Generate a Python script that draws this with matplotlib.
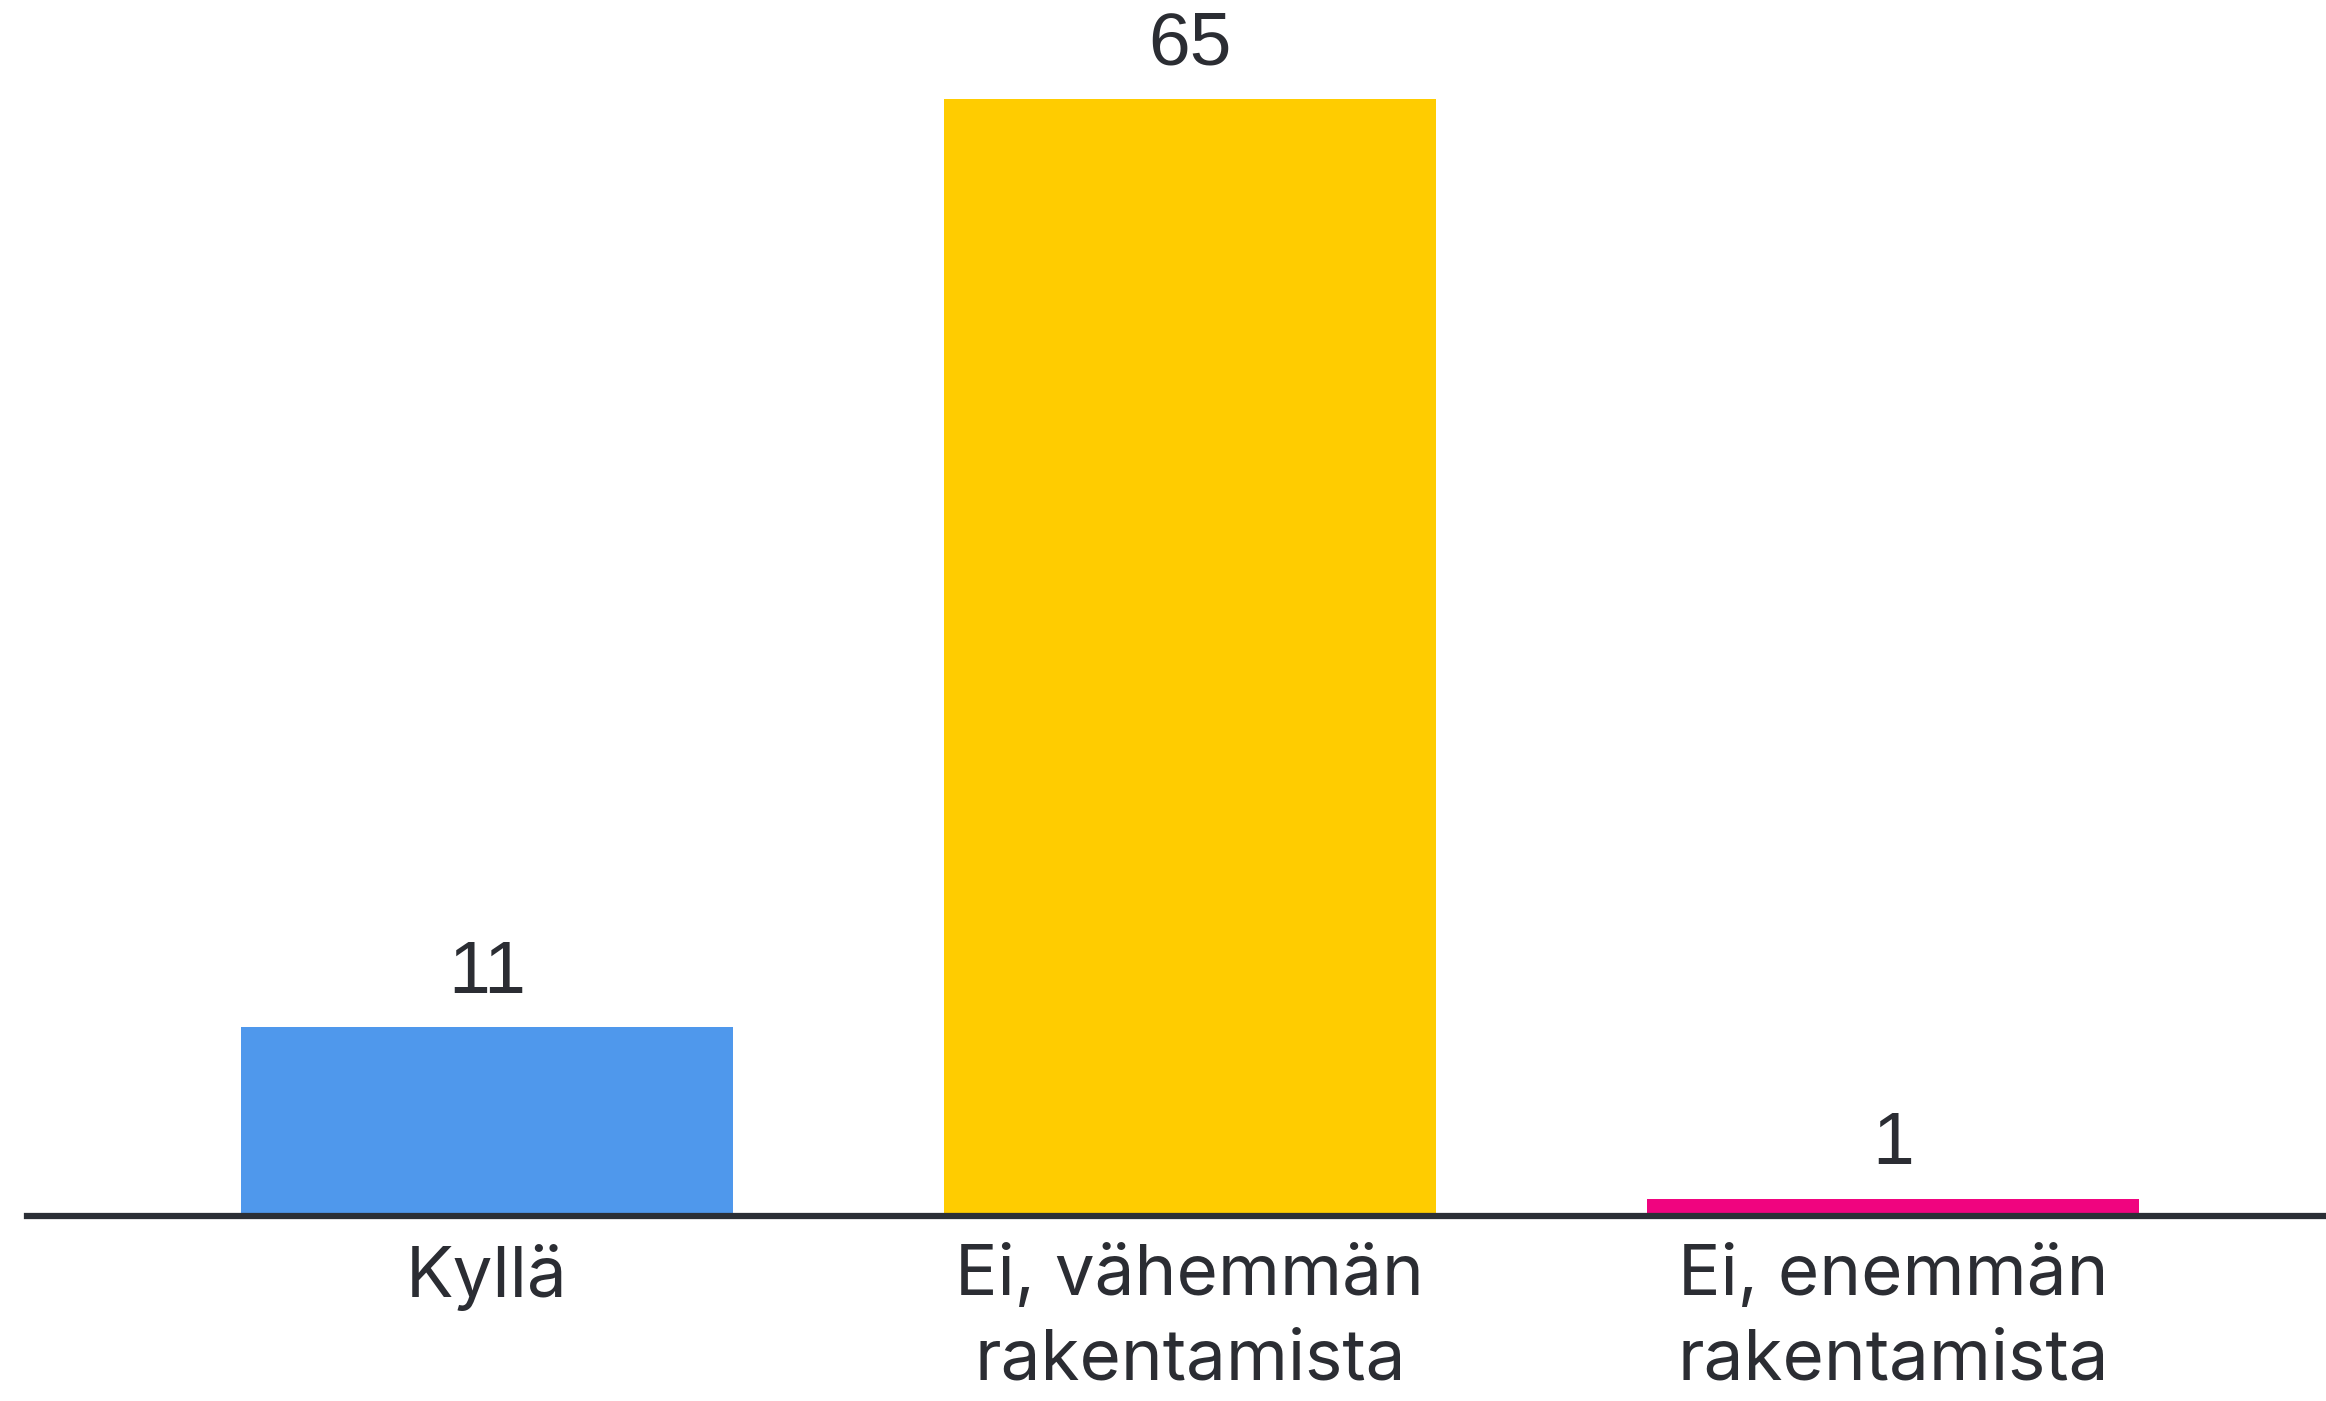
import matplotlib
matplotlib.use("Agg")
from matplotlib import pyplot as plt

# Data
categories = ["Kyllä", "Ei, vähemmän\nrakentamista", "Ei, enemmän\nrakentamista"]
values = [11, 65, 1]
colors = ["#4f98ec", "#ffcc00", "#f0047f"]

W, H = 2326, 1401
fig = plt.figure(figsize=(W / 100, H / 100), dpi=100)

# axes placed in pixel terms: baseline at y=1216, top of 65 bar at y=99
left_px, base_px, top_px = 27, 1216, 99
ax = fig.add_axes([left_px / W, (H - base_px) / H, 1 - left_px / W, (base_px - top_px) / H])

x = list(range(len(categories)))
bars = ax.bar(x, values, width=0.7, color=colors, zorder=2)
ax.set_xlim(-0.654, 2.616)
ax.set_ylim(0, max(values))

for b, v in zip(bars, values):
    ax.annotate(str(v), (b.get_x() + b.get_width() / 2, v),
                xytext=(0, 14), textcoords="offset points",
                ha="center", va="bottom", fontsize=54,
                fontfamily="Liberation Sans", color="#2b2d33",
                annotation_clip=False)

ax.set_xticks(x)
ax.set_xticklabels(categories, fontsize=51, fontfamily="Inter",
                   color="#2b2d33", linespacing=1.38)
ax.tick_params(axis="x", length=0, pad=20)
ax.set_yticks([])

for s in ["top", "right", "left"]:
    ax.spines[s].set_visible(False)
ax.spines["bottom"].set_color("#2b2f36")
ax.spines["bottom"].set_linewidth(4.5)
ax.spines["bottom"].set_zorder(3)

fig.savefig("out.png", dpi=100, facecolor="white")
